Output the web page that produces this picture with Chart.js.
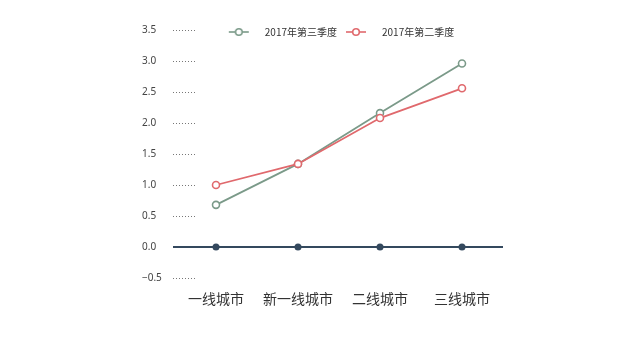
<!DOCTYPE html>
<html>
<head>
<meta charset="utf-8">
<script src="https://cdn.jsdelivr.net/npm/chart.js@4/dist/chart.umd.min.js"></script>
<style>
  html, body { margin: 0; padding: 0; background: #ffffff; }
  #wrap { width: 640px; height: 364px; }
</style>
</head>
<body>
<div id="wrap"><canvas id="cityChart"></canvas></div>
<script>
'use strict';

// Chart data
const categories = ['一线城市', '新一线城市', '二线城市', '三线城市'];
const seriesNames = ['2017年第三季度', '2017年第二季度'];
const q3Values = [0.68, 1.34, 2.16, 2.96];
const q2Values = [1.0, 1.34, 2.08, 2.56];
const baseValues = [0, 0, 0, 0];
const yTickValues = [-0.5, 0, 0.5, 1.0, 1.5, 2.0, 2.5, 3.0, 3.5];

const GREEN = '#7b9a89';
const RED = '#e0696d';
const NAVY = '#34495e';

/**
 * Legend marker: short line with a hollow circle
 */
function makeMarker(color) {
    const c = document.createElement('canvas');
    c.width = 36;
    c.height = 10;
    const ctx = c.getContext('2d');
    ctx.strokeStyle = color;
    ctx.lineWidth = 1.6;
    ctx.beginPath();
    ctx.moveTo(5, 5);
    ctx.lineTo(25, 5);
    ctx.stroke();
    ctx.beginPath();
    ctx.arc(15, 5, 3.3, 0, Math.PI * 2);
    ctx.fillStyle = '#ffffff';
    ctx.fill();
    ctx.stroke();
    return c;
}

const markers = [makeMarker(GREEN), makeMarker(RED)];

// dotted tick marks + zero line, and a flat legend box
const axisDecor = {
    id: 'axisDecor',
    beforeLayout(chart) {
        const legend = chart.legend;
        if (legend && !legend._flatFit) {
            const origFit = legend.fit;
            const origDraw = legend.draw;
            legend.fit = function() {
                origFit.call(this);
                this.height = 7;
            };
            // draw without clipping to the shortened box
            legend.draw = function() {
                const bottom = this.bottom;
                this.bottom = this.top + 30;
                origDraw.call(this);
                this.bottom = bottom;
            };
            legend._flatFit = true;
        }
    },
    beforeDatasetsDraw(chart) {
        const ctx = chart.ctx;
        const y = chart.scales.y;
        const area = chart.chartArea;
        ctx.save();
        ctx.strokeStyle = '#777777';
        ctx.lineWidth = 1;
        ctx.setLineDash([1, 2]);
        y.ticks.forEach(t => {
            if (t.value === 0) return;
            const py = Math.round(y.getPixelForValue(t.value)) + 0.5;
            ctx.beginPath();
            ctx.moveTo(area.left - 2, py);
            ctx.lineTo(area.left + 21, py);
            ctx.stroke();
        });
        ctx.setLineDash([]);
        ctx.strokeStyle = NAVY;
        ctx.lineWidth = 2;
        const zy = y.getPixelForValue(0);
        ctx.beginPath();
        ctx.moveTo(area.left - 2, zy);
        ctx.lineTo(area.right, zy);
        ctx.stroke();
        ctx.restore();
    }
};

new Chart(document.getElementById('cityChart'), {
    type: 'line',
    data: {
        labels: categories,
        datasets: [{
            label: seriesNames[0],
            data: q3Values,
            borderColor: GREEN,
            backgroundColor: '#ffffff',
            borderWidth: 1.8,
            pointRadius: 3.5,
            pointBorderWidth: 1.6,
            pointBorderColor: GREEN,
            pointBackgroundColor: '#ffffff',
            tension: 0,
            order: 1
        }, {
            label: seriesNames[1],
            data: q2Values,
            borderColor: RED,
            backgroundColor: '#ffffff',
            borderWidth: 1.8,
            pointRadius: 3.5,
            pointBorderWidth: 1.6,
            pointBorderColor: RED,
            pointBackgroundColor: '#ffffff',
            tension: 0,
            order: 0
        }, {
            label: 'base',
            data: baseValues,
            showLine: false,
            pointRadius: 3.5,
            pointBorderWidth: 0,
            pointBackgroundColor: NAVY,
            order: 2
        }]
    },
    options: {
        responsive: true,
        maintainAspectRatio: false,
        animation: false,
        layout: {
            padding: { left: 142, right: 137, top: 23, bottom: 46 }
        },
        plugins: {
            legend: {
                position: 'top',
                fullSize: false,
                labels: {
                    usePointStyle: true,
                    pointStyleWidth: 36,
                    padding: 4,
                    color: '#333333',
                    font: { size: 10, family: '"Noto Sans CJK SC", "Noto Sans", sans-serif' },
                    filter: item => item.datasetIndex < 2,
                    sort: (a, b) => a.datasetIndex - b.datasetIndex,
                    generateLabels: function(chart) {
                        const items = Chart.defaults.plugins.legend.labels.generateLabels(chart);
                        items.forEach(item => {
                            if (item.datasetIndex < 2) {
                                item.pointStyle = markers[item.datasetIndex];
                            }
                        });
                        return items;
                    }
                }
            },
            tooltip: { enabled: false }
        },
        scales: {
            x: {
                offset: true,
                grid: { display: false },
                border: { display: false },
                afterFit: function(scale) { scale.height = 40; },
                ticks: {
                    color: '#333333',
                    padding: 4,
                    font: { size: 14, family: '"Noto Sans CJK SC", sans-serif' }
                }
            },
            y: {
                min: -0.5,
                max: 3.5,
                grid: { display: false },
                border: { display: false },
                afterFit: function(scale) { scale.width = 33; },
                afterBuildTicks: function(scale) {
                    scale.ticks = yTickValues.map(v => ({ value: v }));
                },
                ticks: {
                    color: '#444444',
                    crossAlign: 'far',
                    padding: 0,
                    font: { size: 10, family: '"Noto Sans", sans-serif' },
                    callback: value => value.toFixed(1).replace('-', '−')
                }
            }
        }
    },
    plugins: [axisDecor]
});
</script>
</body>
</html>
